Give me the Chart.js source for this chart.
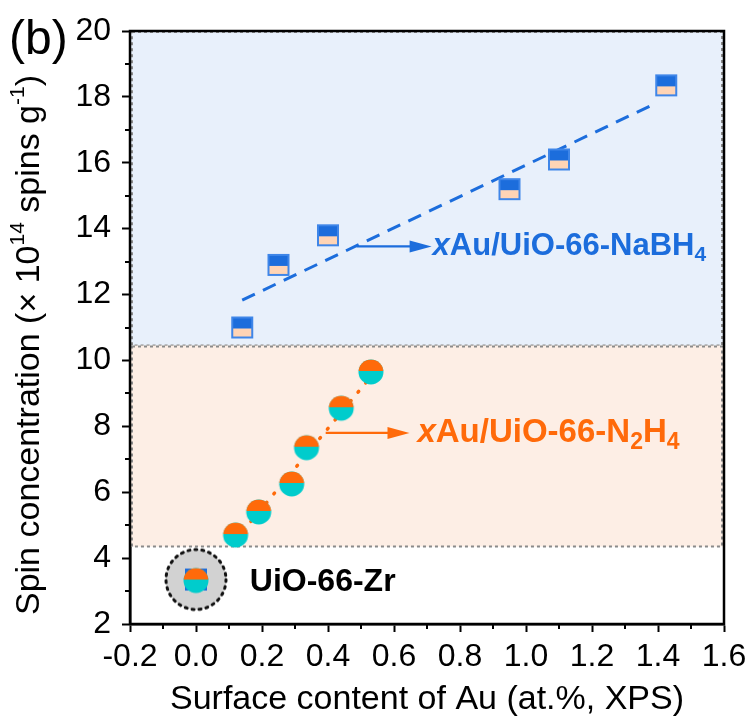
<!DOCTYPE html>
<html>
<head>
<meta charset="utf-8">
<script src="https://cdn.jsdelivr.net/npm/chart.js@4.4.1/dist/chart.umd.min.js"></script>
<style>
  html, body { margin: 0; padding: 0; background: #fff; }
  #wrap { width: 755px; height: 722px; }
</style>
</head>
<body>
<div id="wrap"><canvas id="spinChart" width="755" height="722"></canvas></div>
<script>
// Surface Au content (at.%, XPS) vs spin concentration (x 10^14 spins/g)
const nabh4Au = [0.14, 0.25, 0.40, 0.95, 1.10, 1.425];
const nabh4Spin = [11.0, 12.9, 13.8, 15.2, 16.1, 18.35];
const n2h4Au = [0.12, 0.19, 0.29, 0.335, 0.44, 0.53];
const n2h4Spin = [4.7, 5.4, 6.25, 7.35, 8.55, 9.65];
const zrAu = [0.0];
const zrSpin = [3.35];

// trend lines, end points only
const nabh4FitAu = [0.14, 1.39];
const nabh4FitSpin = [11.83, 17.79];
const n2h4FitAu = [0.12, 0.525];
const n2h4FitSpin = [4.55, 9.45];

// shaded ranges on the y axis
const nabh4Band = [10.45, 20];
const n2h4Band = [4.35, 10.45];

const xTicks = [-0.2, 0.0, 0.2, 0.4, 0.6, 0.8, 1.0, 1.2, 1.4, 1.6];
const yTicks = [2, 4, 6, 8, 10, 12, 14, 16, 18, 20];

const BLUE = '#1c6ddc';
const ORANGE = '#ff6a0a';
const CYAN = '#00cccc';
const PEACH = '#ffd4b5';
const FONT = "'Liberation Sans', Arial, sans-serif";

function pts(xs, ys) {
    return xs.map((x, i) => ({ x: x, y: ys[i] }));
}

// half blue / half peach square
function squareMark() {
    const c = document.createElement('canvas');
    c.width = 24; c.height = 24;
    const g = c.getContext('2d');
    g.fillStyle = PEACH;
    g.fillRect(1, 1, 22, 22);
    g.fillStyle = BLUE;
    g.fillRect(1, 1, 22, 12);
    g.strokeStyle = '#3f86e8';
    g.lineWidth = 2;
    g.strokeRect(2, 2, 20, 20);
    return c;
}

function drawBall(g, cx, cy, r) {
    g.save();
    g.beginPath();
    g.arc(cx, cy, r, 0, Math.PI * 2);
    g.fillStyle = CYAN;
    g.fill();
    g.clip();
    g.fillStyle = ORANGE;
    g.fillRect(cx - r, cy - r, 2 * r, r - 1);
    g.restore();
}

function ballMark() {
    const c = document.createElement('canvas');
    c.width = 28; c.height = 28;
    drawBall(c.getContext('2d'), 14, 14, 12.5);
    return c;
}

// bare UiO-66-Zr: ball on a blue square inside a dotted grey disc
function zrMark() {
    const c = document.createElement('canvas');
    c.width = 68; c.height = 68;
    const g = c.getContext('2d');
    g.beginPath();
    g.arc(34, 34, 30, 0, Math.PI * 2);
    g.fillStyle = '#d2d2d2';
    g.fill();
    g.setLineDash([2, 5]);
    g.lineCap = 'round';
    g.lineWidth = 3;
    g.strokeStyle = '#111';
    g.stroke();
    g.setLineDash([]);
    g.fillStyle = BLUE;
    g.fillRect(23, 23, 22, 22);
    drawBall(g, 34, 35, 12.5);
    return c;
}

// text runs with sub/superscripts
function richWidth(ctx, parts) {
    let w = 0;
    parts.forEach(p => { ctx.font = p.font; w += ctx.measureText(p.t).width; });
    return w;
}
function drawRich(ctx, parts, x, y) {
    ctx.textBaseline = 'middle';
    ctx.textAlign = 'left';
    parts.forEach(p => {
        ctx.font = p.font;
        ctx.fillText(p.t, x, y + (p.dy || 0));
        x += ctx.measureText(p.t).width;
    });
}

function arrow(ctx, x0, x1, y, color) {
    ctx.save();
    ctx.strokeStyle = color;
    ctx.fillStyle = color;
    ctx.lineWidth = 2.2;
    ctx.beginPath();
    ctx.moveTo(x0, y);
    ctx.lineTo(x1 - 16, y);
    ctx.stroke();
    ctx.beginPath();
    ctx.moveTo(x1, y);
    ctx.lineTo(x1 - 22, y - 6);
    ctx.lineTo(x1 - 22, y + 6);
    ctx.closePath();
    ctx.fill();
    ctx.restore();
}

const decor = {
    id: 'decor',
    beforeDatasetsDraw(chart) {
        const ctx = chart.ctx, a = chart.chartArea;
        const ys = chart.scales.y;
        [[nabh4Band, '#e8f0fb'], [n2h4Band, '#fdeee5']].forEach(([b, fill]) => {
            const top = ys.getPixelForValue(b[1]);
            const bot = ys.getPixelForValue(b[0]);
            ctx.save();
            ctx.fillStyle = fill;
            ctx.fillRect(a.left + 1, top, a.right - a.left - 2, bot - top);
            ctx.strokeStyle = '#8a8a8a';
            ctx.lineWidth = 2;
            ctx.setLineDash([3, 3]);
            ctx.strokeRect(a.left + 2, top + 1, a.right - a.left - 4, bot - top - 1);
            ctx.restore();
        });
    },
    afterDatasetsDraw(chart) {
        const ctx = chart.ctx, a = chart.chartArea;
        const xs = chart.scales.x, ys = chart.scales.y;
        ctx.save();

        // frame
        ctx.strokeStyle = '#000';
        ctx.lineWidth = 2.5;
        ctx.strokeRect(a.left, a.top, a.right - a.left, a.bottom - a.top);

        // minor ticks
        ctx.lineWidth = 2;
        ctx.beginPath();
        for (let v = 3; v < 20; v += 2) {
            const p = Math.round(ys.getPixelForValue(v));
            ctx.moveTo(a.left - 5, p);
            ctx.lineTo(a.left, p);
        }
        for (let k = 0; k < 9; k++) {
            const p = Math.round(xs.getPixelForValue(-0.1 + 0.2 * k));
            ctx.moveTo(p, a.bottom);
            ctx.lineTo(p, a.bottom + 5);
        }
        ctx.stroke();

        // labels with arrows
        const bY = ys.getPixelForValue(13.46);
        arrow(ctx, xs.getPixelForValue(0.487), xs.getPixelForValue(0.714), bY, BLUE);
        ctx.fillStyle = BLUE;
        drawRich(ctx, [
            { t: 'x', font: 'italic bold 31px ' + FONT },
            { t: 'Au/UiO-66-NaBH', font: 'bold 31px ' + FONT },
            { t: '4', font: 'bold 21px ' + FONT, dy: 9 }
        ], xs.getPixelForValue(0.717), bY);

        const oY = ys.getPixelForValue(7.8);
        arrow(ctx, xs.getPixelForValue(0.393), xs.getPixelForValue(0.647), oY, ORANGE);
        ctx.fillStyle = ORANGE;
        drawRich(ctx, [
            { t: 'x', font: 'italic bold 33px ' + FONT },
            { t: 'Au/UiO-66-N', font: 'bold 33px ' + FONT },
            { t: '2', font: 'bold 23px ' + FONT, dy: 10 },
            { t: 'H', font: 'bold 33px ' + FONT },
            { t: '4', font: 'bold 23px ' + FONT, dy: 10 }
        ], xs.getPixelForValue(0.671), oY);

        ctx.fillStyle = '#000';
        drawRich(ctx, [{ t: 'UiO-66-Zr', font: 'bold 32px ' + FONT }],
            xs.getPixelForValue(0.163), ys.getPixelForValue(3.27));

        // y axis title
        const title = [
            { t: 'Spin concentration (\u00d7 10', font: '34px ' + FONT },
            { t: '14', font: '21px ' + FONT, dy: -12 },
            { t: ' spins g', font: '34px ' + FONT },
            { t: '-1', font: '21px ' + FONT, dy: -12 },
            { t: ')', font: '34px ' + FONT }
        ];
        ctx.save();
        ctx.translate(30, 345);
        ctx.rotate(-Math.PI / 2);
        drawRich(ctx, title, -richWidth(ctx, title) / 2, 0);
        ctx.restore();

        // panel letter
        ctx.font = '48px ' + FONT;
        ctx.textBaseline = 'alphabetic';
        ctx.fillText('(b)', 9, 54);
        ctx.restore();
    }
};

new Chart(document.getElementById('spinChart'), {
    type: 'scatter',
    data: {
        datasets: [
            {
                label: 'UiO-66-Zr',
                data: pts(zrAu, zrSpin),
                pointStyle: zrMark(),
                pointRadius: 30,
                order: 1
            },
            {
                label: 'xAu/UiO-66-NaBH4',
                data: pts(nabh4Au, nabh4Spin),
                pointStyle: squareMark(),
                pointRadius: 12,
                order: 1
            },
            {
                label: 'xAu/UiO-66-N2H4',
                data: pts(n2h4Au, n2h4Spin),
                pointStyle: ballMark(),
                pointRadius: 13,
                order: 1
            },
            {
                type: 'line',
                label: 'NaBH4 trend',
                data: pts(nabh4FitAu, nabh4FitSpin),
                showLine: true,
                borderColor: BLUE,
                borderWidth: 3,
                borderDash: [14, 9],
                pointRadius: 0,
                fill: false,
                order: 2
            },
            {
                type: 'line',
                label: 'N2H4 trend',
                data: pts(n2h4FitAu, n2h4FitSpin),
                showLine: true,
                borderColor: ORANGE,
                borderWidth: 3.5,
                borderDash: [1, 11],
                borderCapStyle: 'round',
                pointRadius: 0,
                fill: false,
                order: 2
            }
        ]
    },
    options: {
        responsive: false,
        animation: false,
        devicePixelRatio: 1,
        layout: { padding: { top: 29, right: 29, left: 0, bottom: 0 } },
        plugins: {
            legend: { display: false },
            tooltip: { enabled: false }
        },
        scales: {
            x: {
                type: 'linear',
                min: xTicks[0],
                max: xTicks[xTicks.length - 1],
                afterBuildTicks: s => { s.ticks = xTicks.map(v => ({ value: v })); },
                afterFit: s => { s.height = 98; },
                ticks: {
                    color: '#000',
                    font: { family: FONT, size: 32 },
                    padding: 6,
                    maxRotation: 0,
                    autoSkip: false,
                    callback: v => (Math.abs(v) < 1e-9 ? 0 : v).toFixed(1)
                },
                grid: { drawOnChartArea: false, tickLength: 8, tickWidth: 2, color: '#000' },
                border: { color: '#000', width: 2.5 },
                title: {
                    display: true,
                    text: 'Surface content of Au (at.%, XPS)',
                    color: '#000',
                    font: { family: FONT, size: 34 },
                    padding: { top: 0, bottom: 2 }
                }
            },
            y: {
                type: 'linear',
                min: yTicks[0],
                max: yTicks[yTicks.length - 1],
                afterBuildTicks: s => { s.ticks = yTicks.map(v => ({ value: v })); },
                afterFit: s => { s.width = 130; },
                ticks: {
                    color: '#000',
                    font: { family: FONT, size: 32 },
                    padding: 11,
                    autoSkip: false
                },
                grid: { drawOnChartArea: false, tickLength: 8, tickWidth: 2, color: '#000' },
                border: { color: '#000', width: 2.5 }
            }
        }
    },
    plugins: [decor]
});
</script>
</body>
</html>
